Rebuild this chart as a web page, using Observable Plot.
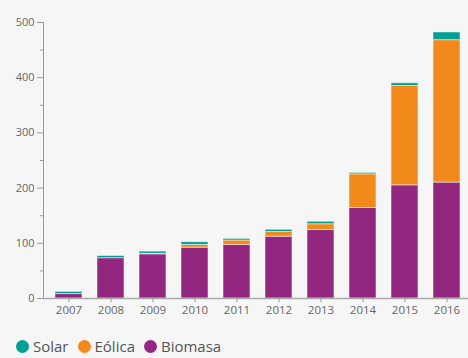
<!DOCTYPE html>
<html>
<head>
<meta charset="utf-8">
<script src="https://cdn.jsdelivr.net/npm/d3@7"></script>
<script src="https://cdn.jsdelivr.net/npm/@observablehq/plot@0.6"></script>
<style>
  html, body { margin: 0; padding: 0; background: #f6f6f6; overflow: hidden; width: 468px; height: 358px; }
  body { font-family: "Open Sans", sans-serif; }
  #chart svg { display: block; background: transparent; }
  #legend { display: flex; align-items: center; height: 20px; line-height: 20px; margin-top: 11px; padding-left: 16px; font-size: 15px; color: #555; }
  .item { display: flex; align-items: center; margin-right: 9px; }
  .dot { width: 13px; height: 13px; border-radius: 50%; margin-right: 4px; }
</style>
</head>
<body>
<div id="chart"></div>
<div id="legend"></div>
<script>
const years   = ["2007","2008","2009","2010","2011","2012","2013","2014","2015","2016"];
const biomasa = [8, 73, 80, 92, 97, 112, 124, 164, 205, 210];
const eolica  = [0, 0, 1, 5, 8, 8.5, 10.5, 61, 180, 258];
const solar   = [4, 4, 4, 5, 3, 4, 4.5, 2.5, 5, 14];
const series  = ["Biomasa", "Eólica", "Solar"];
const legendOrder = ["Solar", "Eólica", "Biomasa"];
const colors  = {"Solar": "#00a096", "Eólica": "#f18a1b", "Biomasa": "#93267f"};
const yTicks  = [0, 100, 200, 300, 400, 500];
const yMinor  = [50, 150, 250, 350, 450];

const values = {"Biomasa": biomasa, "Eólica": eolica, "Solar": solar};
const data = [];
years.forEach((y, i) => series.forEach(s => data.push({year: y, fuente: s, valor: values[s][i]})));

const chart = Plot.plot({
  width: 468,
  height: 325,
  marginLeft: 43,
  marginRight: -5,
  marginTop: 22,
  marginBottom: 27,
  style: {fontFamily: "Open Sans, sans-serif", fontSize: "11px", color: "#666", background: "transparent"},
  x: {type: "band", domain: years, paddingInner: 0.35, paddingOuter: 0.2, label: null},
  y: {domain: [0, 500], label: null},
  color: {domain: series, range: series.map(s => colors[s])},
  marks: [
    Plot.barY(data, {x: "year", y: "valor", fill: "fuente", order: series, stroke: "#fff", strokeOpacity: 0.5, strokeWidth: 1}),
    Plot.axisY({ticks: yTicks, tickSize: 6, tickPadding: 3, stroke: "#999", fill: "#666"}),
    Plot.axisY({ticks: yMinor, tickSize: 3, text: null, stroke: "#999"}),
    Plot.frame({anchor: "left", stroke: "#999"}),
    Plot.ruleY([0], {stroke: "#aaa", strokeWidth: 1.5}),
    Plot.axisX({tickSize: 4, tickPadding: 3, stroke: "#999", fill: "#666", fontSize: 11.5})
  ]
});
document.getElementById("chart").appendChild(chart);

const legend = document.getElementById("legend");
legendOrder.forEach(s => {
  const item = document.createElement("div");
  item.className = "item";
  const dot = document.createElement("span");
  dot.className = "dot";
  dot.style.background = colors[s];
  const label = document.createElement("span");
  label.textContent = s;
  item.appendChild(dot);
  item.appendChild(label);
  legend.appendChild(item);
});
</script>
</body>
</html>
